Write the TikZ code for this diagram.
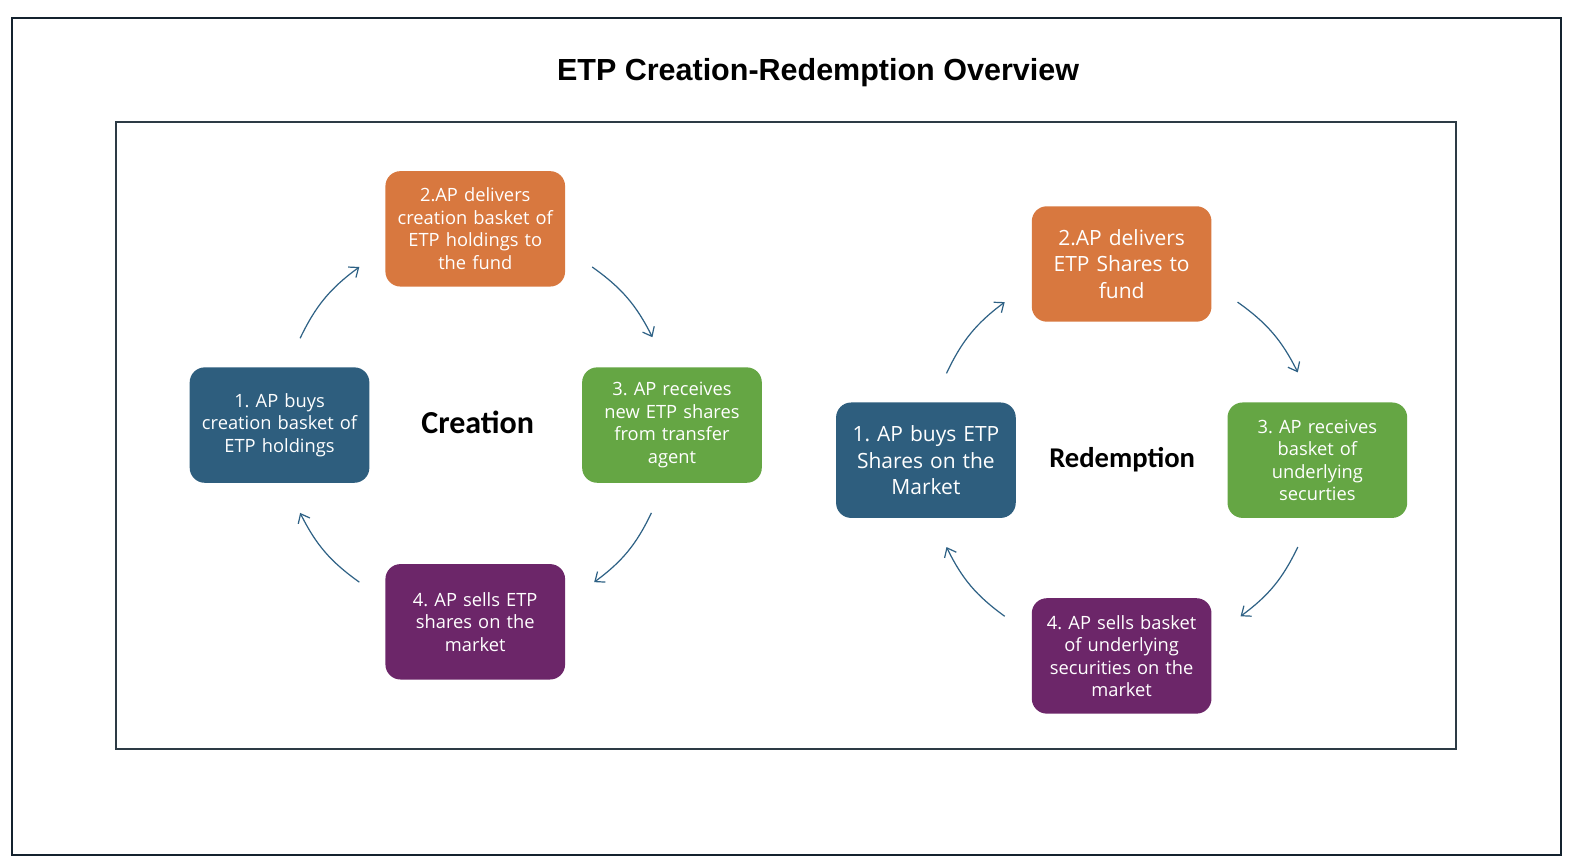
\documentclass[tikz,border=0pt]{standalone}
\usepackage{fontspec}
\setmainfont{Open Sans}
\newfontfamily\labfont{Carlito}
\newfontfamily\titlefont{Liberation Sans}
\usetikzlibrary{arrows.meta,calc}
\definecolor{frameA}{HTML}{14222E}
\definecolor{frameB}{HTML}{2D3B45}
\definecolor{cblue}{HTML}{2E5E7E}
\definecolor{corange}{HTML}{D8783F}
\definecolor{cgreen}{HTML}{65A644}
\definecolor{cpurple}{HTML}{6C2669}
\definecolor{carrow}{HTML}{2E6185}
\tikzset{
  stepbox/.style={rounded corners=15bp, minimum width=179bp, minimum height=115bp,
    inner sep=0pt, text width=177bp, align=center, text=white,
    font=\frenchspacing\fontsize{18.3}{22.5}\selectfont},
  bigtext/.style={font=\frenchspacing\fontsize{21}{26.5}\selectfont},
  cyc/.style={draw=carrow, line width=1.2bp, -{Straight Barb[length=8bp,width=13bp,line width=1.2bp]}},
  biglabel/.style={font=\labfont\bfseries\fontsize{32}{36}\selectfont},
}
\begin{document}
\begin{tikzpicture}[x=1bp,y=-1bp]
\useasboundingbox (0,0) rectangle (1568.2,862.8);
\fill[white] (0,0) rectangle (1568.2,862.8);
\draw[frameA, line width=2.5bp] (12,18) rectangle (1555,852);
\draw[frameB, line width=2bp] (116,122) rectangle (1451,746);

\node[font=\titlefont\bfseries\fontsize{30.5}{34}\selectfont] (title) at (815,72) {ETP Creation-Redemption Overview};

% Creation
\node[stepbox, fill=cblue] (c1) at (278.5,423.5) {1. AP buys\\creation basket of\\ETP holdings};
\node[stepbox, fill=corange] (c2) at (473.5,228) {2.AP delivers\\creation basket of\\ETP holdings to\\the fund};
\node[stepbox, fill=cgreen] (c3) at (669.5,423.5) {3. AP receives\\new ETP shares\\from transfer\\agent};
\node[stepbox, fill=cpurple] (c4) at (473.5,619.5) {4. AP sells ETP\\shares on the\\market};
\node[biglabel] (clab) at (476,421) {Creation};

\coordinate (ca1s) at (299,337);
\coordinate (ca1e) at (358,266);
\coordinate (ca2s) at (590,266);
\coordinate (ca2e) at (650,336);
\coordinate (ca3s) at (649,511);
\coordinate (ca3e) at (592,580);
\coordinate (ca4s) at (358,580);
\coordinate (ca4e) at (299,511);
\draw[cyc] (ca1s) to[bend left=14] (ca1e);
\draw[cyc] (ca2s) to[bend left=14] (ca2e);
\draw[cyc] (ca3s) to[bend left=14] (ca3e);
\draw[cyc] (ca4s) to[bend left=14] (ca4e);

% Redemption
\node[stepbox, bigtext, fill=cblue] (r1) at (922.5,458.5) {1. AP buys ETP\\Shares on the\\Market};
\node[stepbox, bigtext, fill=corange] (r2) at (1117.5,263) {2.AP delivers\\ETP Shares to\\fund};
\node[stepbox, fill=cgreen] (r3) at (1312.5,458.5) {3. AP receives\\basket of\\underlying\\securties};
\node[stepbox, fill=cpurple] (r4) at (1117.5,653.5) {4. AP sells basket\\of underlying\\securities on the\\market};
\node[biglabel, font=\labfont\bfseries\fontsize{28.6}{32}\selectfont] (rlab) at (1118,458) {Redemption};

\coordinate (ra1s) at (943,372);
\coordinate (ra1e) at (1001,301);
\coordinate (ra2s) at (1233,301);
\coordinate (ra2e) at (1293,371);
\coordinate (ra3s) at (1293,545);
\coordinate (ra3e) at (1236,614);
\coordinate (ra4s) at (1001,614);
\coordinate (ra4e) at (943,545);
\draw[cyc] (ra1s) to[bend left=14] (ra1e);
\draw[cyc] (ra2s) to[bend left=14] (ra2e);
\draw[cyc] (ra3s) to[bend left=14] (ra3e);
\draw[cyc] (ra4s) to[bend left=14] (ra4e);
\end{tikzpicture}
\end{document}
